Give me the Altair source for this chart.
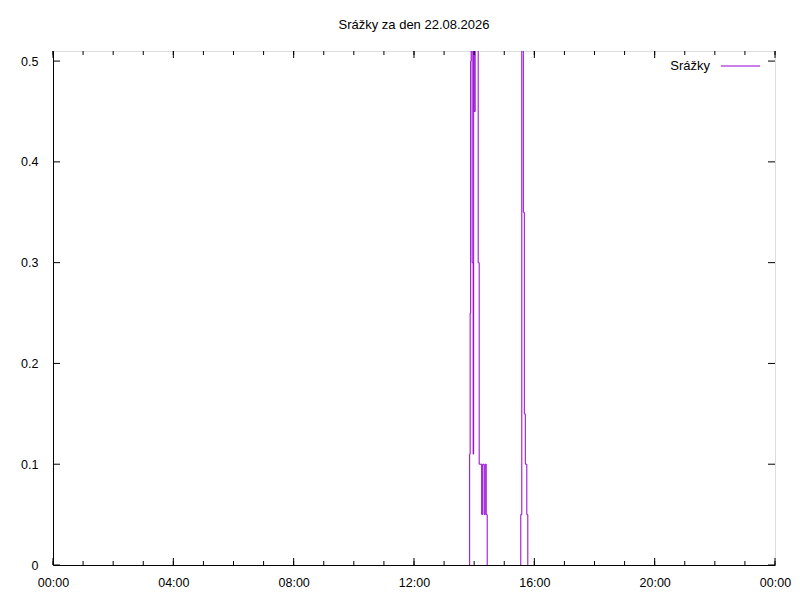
import altair as alt
import pandas as pd

DAY = "2026-08-22"
NEXT = "2026-08-23"

# rainfall readings (time of change, value held until the next reading)
rain_times = ["13:50", "13:51", "13:52", "13:53", "13:54", "13:56", "13:58", "13:59",
              "14:00", "14:02", "14:08", "14:10", "14:15", "14:17", "14:20", "14:22",
              "14:24", "14:26",
              "15:32", "15:33", "15:35", "15:38", "15:40", "15:42", "15:45", "15:47"]
rain_values = [0, 0.11, 0.25, 0.5, 0.6, 0.3, 0.11, 0.6,
               0.45, 0.6, 0.3, 0.1, 0.05, 0.1, 0.05, 0.1,
               0.05, 0,
               0, 0.05, 0.6, 0.35, 0.15, 0.1, 0.05, 0]
rain_episode = [1] * 18 + [2] * 8

y_ticks = [0, 0.1, 0.2, 0.3, 0.4, 0.5]
x_major_hours = [0, 4, 8, 12, 16, 20, 24]
x_minor_hours = list(range(0, 25))
series_name = "Srážky"
title_text = "Srážky za den 22.08.2026"

W, H = 722, 514
PURPLE = "#9400d3"
FONT = "Liberation Sans"
MAJ, MIN = 7, 4


def hour_ts(h):
    return f"{NEXT}T00:00:00" if h == 24 else f"{DAY}T{h:02d}:00:00"


rain = pd.DataFrame({"t": [f"{DAY}T{t}:00" for t in rain_times], "v": rain_values,
                     "ep": rain_episode})
xmaj = pd.DataFrame({"t": [hour_ts(h) for h in x_major_hours]})
xmin = pd.DataFrame({"t": [hour_ts(h) for h in x_minor_hours]})
yt = pd.DataFrame({"v": y_ticks})

x_scale = alt.Scale(domain=[alt.DateTime(year=2026, month=8, date=22, hours=0),
                            alt.DateTime(year=2026, month=8, date=23, hours=0)])
y_scale = alt.Scale(domain=[0, 0.51], nice=False, zero=True)

x_axis = alt.Axis(
    values=[alt.DateTime(year=2026, month=8, date=22 if h < 24 else 23, hours=h % 24)
            for h in x_major_hours],
    format="%H:%M", ticks=False, tickSize=0, labelPadding=11, labelFlush=False,
    labelOverlap=False, grid=False, domainColor="black", zindex=1,
    labelFont=FONT, labelFontSize=12.5, labelColor="black")
y_axis = alt.Axis(values=y_ticks, format="~g", ticks=False, tickSize=0, labelPadding=15,
                  grid=False, domainColor="black", zindex=1,
                  labelFont=FONT, labelFontSize=12.5, labelColor="black")

line = alt.Chart(rain).mark_line(interpolate="step-after", color=PURPLE, strokeWidth=1,
                                 clip=True).encode(
    x=alt.X("t:T", scale=x_scale, axis=x_axis, title=None),
    y=alt.Y("v:Q", scale=y_scale, axis=y_axis, title=None),
    detail="ep:N",
)

X = lambda: alt.X("t:T", title=None)
Y = lambda: alt.Y("v:Q", title=None)

tick_style = dict(color="black", strokeWidth=1)
xmaj_bot = alt.Chart(xmaj).mark_rule(**tick_style).encode(x=X(), y=alt.value(H), y2=alt.value(H - MAJ))
xmaj_top = alt.Chart(xmaj).mark_rule(**tick_style).encode(x=X(), y=alt.value(0), y2=alt.value(MAJ))
xmin_bot = alt.Chart(xmin).mark_rule(**tick_style).encode(x=X(), y=alt.value(H), y2=alt.value(H - MIN))
xmin_top = alt.Chart(xmin).mark_rule(**tick_style).encode(x=X(), y=alt.value(0), y2=alt.value(MIN))
y_left = alt.Chart(yt).mark_rule(**tick_style).encode(y=Y(), x=alt.value(0), x2=alt.value(MAJ))
y_right = alt.Chart(yt).mark_rule(**tick_style).encode(y=Y(), x=alt.value(W), x2=alt.value(W - MAJ))

leg = pd.DataFrame({"label": [series_name]})
leg_text = alt.Chart(leg).mark_text(align="right", baseline="middle", font=FONT, fontSize=13,
                                    color="black").encode(
    x=alt.value(657), y=alt.value(15), text="label:N")
leg_line = alt.Chart(leg).mark_rule(color=PURPLE, strokeWidth=1).encode(
    x=alt.value(668), x2=alt.value(707), y=alt.value(15))

chart = alt.layer(line, xmin_bot, xmin_top, xmaj_bot, xmaj_top, y_left, y_right,
                  leg_text, leg_line).properties(
    width=W, height=H,
    title=alt.TitleParams(title_text, font=FONT, fontSize=13, fontWeight="normal",
                          color="black", anchor="middle", offset=19),
    autosize=alt.AutoSizeParams(type="none"),
    padding={"left": 45, "top": 43, "right": 17, "bottom": 27},
).configure_view(stroke="black", strokeWidth=1).configure(background="white")

chart.save("out.html", embed_options={"renderer": "svg", "actions": False})
